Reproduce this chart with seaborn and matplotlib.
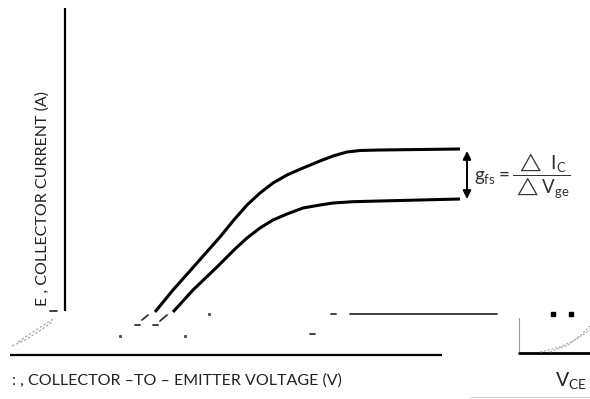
#!/usr/bin/env python3
"""
IGBT transfer characteristic sketch: two I_C vs V_CE curves and the g_fs definition
"""

import matplotlib.pyplot as plt
import seaborn as sns
import pandas as pd

sns.set_style("white")
plt.rcParams['font.family'] = ['Lato', 'DejaVu Sans']
plt.rcParams['mathtext.fontset'] = 'dejavusans'

# Coordinates (pixel units, y grows downward)
upper_x = [155, 173, 197, 220, 233, 247, 260, 273, 287, 303, 320, 333, 347, 360, 380, 460]
upper_y = [312, 290, 263, 237, 221, 205, 193, 183, 175, 168, 161, 156, 152, 150.5, 150, 149]
lower_x = [173, 193, 217, 235, 247, 260, 273, 287, 303, 320, 333, 353, 380, 460]
lower_y = [312, 290, 267, 249, 238, 228, 220, 214, 208, 205, 203, 201.7, 201, 199]

# Axis lines
y_axis_x = [65, 65]
y_axis_y = [8, 311]
x_axis_x = [10, 442]
x_axis_y = [355, 355]

# Arrow between the curves
arrow_x = 467
arrow_top = 151
arrow_bottom = 199

# Broken fragments of the original drawing
fragments = [
    ([350, 497], [314, 314]),
    ([142, 148], [320, 315]),
    ([160, 167], [321, 315]),
    ([135, 140], [325, 325]),
    ([153, 158], [325, 325]),
    ([50, 57], [311, 311]),
    ([331, 336], [314, 314]),
    ([310, 315], [334, 334]),
]
dots = [(120, 336), (185, 336), (209, 314)]

# Bottom-right corner fragment
corner_vline_x = [519, 519]
corner_vline_y = [318, 353]
corner_base_x = [519, 590]
corner_base_y = [353, 353]
corner_squares_x = [553, 571]
corner_squares_y = [314, 314]
faint_x = [[540, 560, 575, 590], [550, 568, 580, 590]]
faint_y = [[352, 347, 340, 330], [352, 345, 336, 326]]
scribble_x = [[12, 25, 38, 52], [18, 30, 42, 55]]
scribble_y = [[346, 340, 332, 322], [342, 334, 326, 318]]

fig = plt.figure(figsize=(5.9, 3.99), dpi=100)
ax = fig.add_axes([0, 0, 1, 1])
ax.set_xlim(0, 590)
ax.set_ylim(399, 0)
ax.axis('off')

curves = pd.DataFrame({
    'x': upper_x + lower_x,
    'y': upper_y + lower_y,
    'curve': ['upper'] * len(upper_x) + ['lower'] * len(lower_x),
})
sns.lineplot(data=curves, x='x', y='y', hue='curve', units='curve', estimator=None,
             sort=False, palette=['black', 'black'], linewidth=2.2, legend=False, ax=ax,
             solid_joinstyle='round', solid_capstyle='butt')

ax.plot(y_axis_x, y_axis_y, color='black', linewidth=1.6, solid_capstyle='butt')
ax.plot(x_axis_x, x_axis_y, color='black', linewidth=1.6, solid_capstyle='butt')

for fx, fy in fragments:
    ax.plot(fx, fy, color='#333333', linewidth=1.3)
for dx, dy in dots:
    ax.plot(dx, dy, marker='s', markersize=1.2, color='#555555')

ax.plot(corner_vline_x, corner_vline_y, color='#999999', linewidth=0.8)
ax.plot(corner_base_x, corner_base_y, color='black', linewidth=2.0)
ax.plot(corner_squares_x, corner_squares_y, 's', color='black', markersize=3.5)
for fx, fy in zip(faint_x, faint_y):
    ax.plot(fx, fy, color='#aaaaaa', linewidth=0.8, linestyle=(0, (2, 1.5)))
for fx, fy in zip(scribble_x, scribble_y):
    ax.plot(fx, fy, color='#aaaaaa', linewidth=0.9, linestyle=(0, (2, 1.5)))
ax.plot([470, 590], [397, 397], color='#cccccc', linewidth=0.8)

ax.annotate('', xy=(arrow_x, arrow_top), xytext=(arrow_x, arrow_bottom),
            arrowprops=dict(arrowstyle='<|-|>', color='black', lw=1.4,
                            mutation_scale=12, shrinkA=0, shrinkB=0))

ax.text(474, 176, r'$\mathregular{g_{fs}=\dfrac{\triangle\ I_C}{\triangle V_{ge}}}$',
        fontsize=13.5, color='#333333', va='center', ha='left')

ax.text(43, 198, 'E , COLLECTOR CURRENT (A)', rotation=90, fontsize=11.5,
        color='#222222', ha='center', va='center')
ax.text(12, 381, ': , COLLECTOR \u2013TO \u2013 EMITTER VOLTAGE (V)', fontsize=11.5,
        color='#222222', ha='left', va='center')
ax.text(555, 381, r'V$_{\mathregular{CE}}$', fontsize=14, color='#222222',
        ha='left', va='center')

fig.savefig('out.png', dpi=100)
plt.close(fig)
